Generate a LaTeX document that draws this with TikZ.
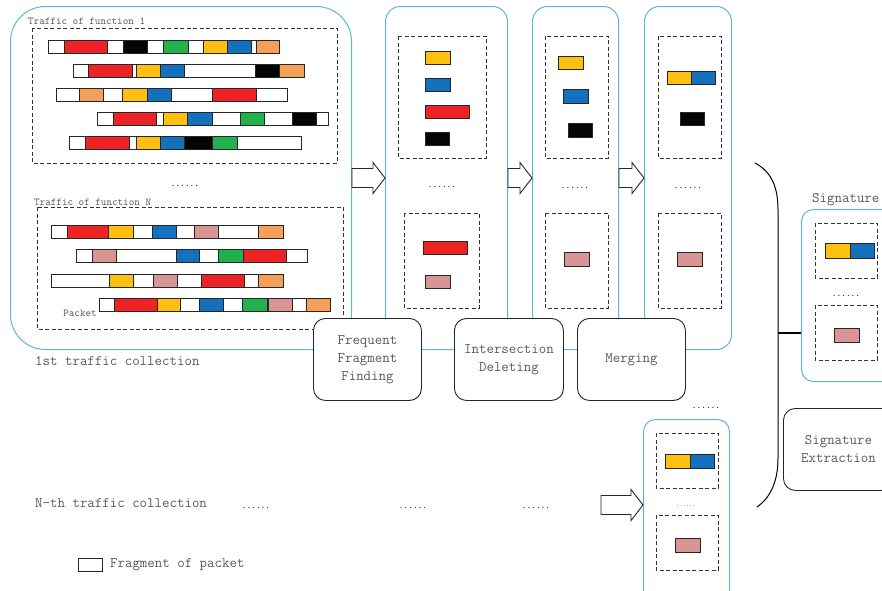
\documentclass[tikz,border=0pt]{standalone}
\usetikzlibrary{positioning,calc}

\definecolor{fred}{HTML}{EE2325}
\definecolor{fyellow}{HTML}{FDC010}
\definecolor{fblue}{HTML}{1570BD}
\definecolor{fgreen}{HTML}{22B14C}
\definecolor{forange}{HTML}{F4A05A}
\definecolor{fpink}{HTML}{D99593}
\definecolor{fblack}{HTML}{050505}
\definecolor{frame}{HTML}{5BB8D4}
\definecolor{txt}{HTML}{595959}

\newcommand{\lbl}{\ttfamily\fontsize{14.5}{18}\selectfont}
\newcommand{\tinylbl}{\ttfamily\fontsize{10.6}{12}\selectfont}
\newcommand{\dotsfont}{\ttfamily\fontsize{9}{10}\selectfont}
\newcommand{\smalldots}{\ttfamily\fontsize{6}{7}\selectfont}

% one packet: y, left, right, coloured fragments
\newcommand{\pktrow}[4]{%
  \draw[frag, fill=white] (#2,#1) rectangle (#3,#1+13);
  \foreach \xa/\xb/\fc in {#4}
    \draw[frag, fill=\fc] (\xa,#1) rectangle (\xb,#1+13);
}

% hollow block arrow between two points of the same height
\newcommand{\hollowarrow}[2]{%
  \draw[harrow] let \p1=(#1), \p2=(#2) in
    (\x1,\y1+9.5pt) -- (\x2-12pt,\y1+9.5pt) -- (\x2-12pt,\y1+15.5pt) -- (\x2,\y1)
    -- (\x2-12pt,\y1-15.5pt) -- (\x2-12pt,\y1-9.5pt) -- (\x1,\y1-9.5pt) -- cycle;
}

\begin{document}
\begin{tikzpicture}[
    x=1pt, y=-1pt,
    group/.style={draw=frame, line width=1, inner sep=0, anchor=north west},
    proc/.style={
      draw=black!85, fill=white, line width=0.9, rounded corners=12,
      inner sep=0, anchor=north west, align=center, text=txt, font=\lbl
    },
    dbox/.style={draw=black!80, line width=0.9, dash pattern=on 4pt off 2.5pt},
    frag/.style={draw=black!85, line width=0.9},
    harrow/.style={draw=black!85, fill=white, line width=0.9},
    note/.style={text=txt, font=\lbl, inner sep=0},
    small/.style={text=txt, font=\tinylbl, inner sep=0},
    dots/.style={font=\dotsfont, inner sep=0},
  ]
  \useasboundingbox (0,0) rectangle (882,590);
  \clip (0,0) rectangle (882,590);

  % Collection and stage frames
  \node[group, rounded corners=35, minimum width=341, minimum height=343] (coll1) at (10,6) {};
  \node[group, rounded corners=15, minimum width=122, minimum height=343] (stage1) at (385,6) {};
  \node[group, rounded corners=15, minimum width=86, minimum height=343] (stage2) at (532,6) {};
  \node[group, rounded corners=15, minimum width=87, minimum height=343] (stage3) at (644,6) {};
  \node[group, rounded corners=12, minimum width=86, minimum height=200] (collN) at (643,419) {};
  \node[group, rounded corners=12, minimum width=120, minimum height=172] (sig) at (801,209) {};

  % Traffic of function 1
  \node[small, anchor=base west] (fun1) at (28,24) {Traffic of function 1};
  \draw[dbox] (32,28) rectangle (337,163);
  \pktrow{40}{48}{279}{64/107/fred, 123/147/fblack, 163/188/fgreen, 203/227/fyellow, 227/251/fblue, 256/279/forange}
  \pktrow{64}{73}{304}{88/132/fred, 136/160/fyellow, 160/184/fblue, 255/279/fblack, 279/304/forange}
  \pktrow{88}{56}{287}{79/103/forange, 122/147/fyellow, 147/171/fblue, 212/256/fred}
  \pktrow{112}{97}{328}{113/156/fred, 163/187/fyellow, 187/212/fblue, 240/264/fgreen, 292/316/fblack}
  \pktrow{136}{69}{301}{85/129/fred, 136/160/fyellow, 160/184/fblue, 184/212/fblack, 212/237/fgreen}

  \node[dots] (d1) at (185,186) {......};

  % Traffic of function N
  \node[small, anchor=base west] (funN) at (34,205) {Traffic of function N};
  \draw[dbox] (37,207) rectangle (343,329);
  \pktrow{225}{51}{283}{67/108/fred, 108/133/fyellow, 152/176/fblue, 194/218/fpink, 258/283/forange}
  \pktrow{249}{76}{307}{92/116/fpink, 176/199/fblue, 218/243/fgreen, 243/286/fred}
  \pktrow{274}{51}{283}{109/133/fyellow, 153/177/fpink, 201/244/fred, 258/283/forange}
  \pktrow{298}{99}{330}{114/157/fred, 157/180/fyellow, 199/223/fblue, 242/267/fgreen, 268/292/fpink, 306/330/forange}
  \node[small] (pkt) at (80,313) {Packet};

  % Stage 1: frequent fragments
  \draw[dbox] (398,36) rectangle (486,158);
  \draw[frag, fill=fyellow] (425,51) rectangle (450,64);
  \draw[frag, fill=fblue] (425,78) rectangle (450,91);
  \draw[frag, fill=fred] (425,105) rectangle (469,118);
  \draw[frag, fill=fblack] (425,132) rectangle (449,145);
  \node[dots] (d2) at (442,187) {......};
  \draw[dbox] (404,213) rectangle (479,308);
  \draw[frag, fill=fred] (423,241) rectangle (467,254);
  \draw[frag, fill=fpink] (425,275) rectangle (450,288);

  % Stage 2: after deleting
  \draw[dbox] (545,36) rectangle (608,158);
  \draw[frag, fill=fyellow] (558,56) rectangle (583,69);
  \draw[frag, fill=fblue] (563,89) rectangle (588,103);
  \draw[frag, fill=fblack] (568,123) rectangle (592,137);
  \node[dots] (d3) at (575,188) {......};
  \draw[dbox] (545,213) rectangle (608,308);
  \draw[frag, fill=fpink] (564,252) rectangle (589,266);

  % Stage 3: after merging
  \draw[dbox] (658,36) rectangle (721,158);
  \draw[frag, fill=fyellow] (667,71) rectangle (691,84);
  \draw[frag, fill=fblue] (691,71) rectangle (715,84);
  \draw[frag, fill=fblack] (680,112) rectangle (704,125);
  \node[dots] (d4) at (688,188) {......};
  \draw[dbox] (658,213) rectangle (721,308);
  \draw[frag, fill=fpink] (677,252) rectangle (702,266);

  % Arrows between stages
  \hollowarrow{coll1.east}{stage1.west}
  \hollowarrow{stage1.east}{stage2.west}
  \hollowarrow{stage2.east}{stage3.west}

  % Processing steps
  \node[proc, minimum width=108, minimum height=82] (freq) at (313,318) {Frequent\\Fragment\\Finding};
  \node[proc, minimum width=109, minimum height=82] (inter) at (454,318) {Intersection\\Deleting};
  \node[proc, minimum width=108, minimum height=82] (merge) at (577,318) {Merging};
  \node[proc, minimum width=110, minimum height=82] (extract) at (783,408) {Signature\\Extraction};

  \node[note, anchor=west] (lbl1) at (35,361) {1st traffic collection};

  % N-th collection
  \node[dots] (d5) at (706,408) {......};
  \draw[dbox] (656,433) rectangle (718,488);
  \draw[frag, fill=fyellow] (665,454) rectangle (690,468);
  \draw[frag, fill=fblue] (690,454) rectangle (714,468);
  \node[font=\smalldots, inner sep=0] (d6) at (686,506) {......};
  \draw[dbox] (656,515) rectangle (718,570);
  \draw[frag, fill=fpink] (675,538) rectangle (700,552);

  \node[note, anchor=west] (lblN) at (35,503) {N-th traffic collection};
  \node[dots] (d7) at (256,508) {......};
  \node[dots] (d8) at (413,508) {......};
  \node[dots] (d9) at (536,508) {......};

  \coordinate (nstart) at (601,505);
  \coordinate (nend) at (collN.west |- nstart);
  \hollowarrow{nstart}{nend}

  % Brace to signature
  \draw[line width=1] (755,163) .. controls (772,172) and (778,188) .. (778,210)
    -- (778,458) .. controls (778,482) and (770,498) .. (757,507);
  \coordinate (bmid) at (778,333);
  \draw[line width=1.6] (bmid) -- (bmid -| sig.west);

  % Signature
  \node[note, anchor=south west] (siglbl) at ([xshift=11pt, yshift=3pt]sig.north west) {Signature};
  \draw[dbox] (815,223) rectangle (877,278);
  \draw[frag, fill=fyellow] (825,243) rectangle (850,258);
  \draw[frag, fill=fblue] (850,243) rectangle (874,258);
  \node[dots] (d10) at (846,296) {......};
  \draw[dbox] (815,305) rectangle (877,360);
  \draw[frag, fill=fpink] (834,328) rectangle (859,342);

  % Legend
  \node[frag, minimum width=24, minimum height=13, inner sep=0, anchor=north west] (legend) at (78,558) {};
  \node[note, right=7pt of legend] (legtxt) {Fragment of packet};
\end{tikzpicture}
\end{document}
